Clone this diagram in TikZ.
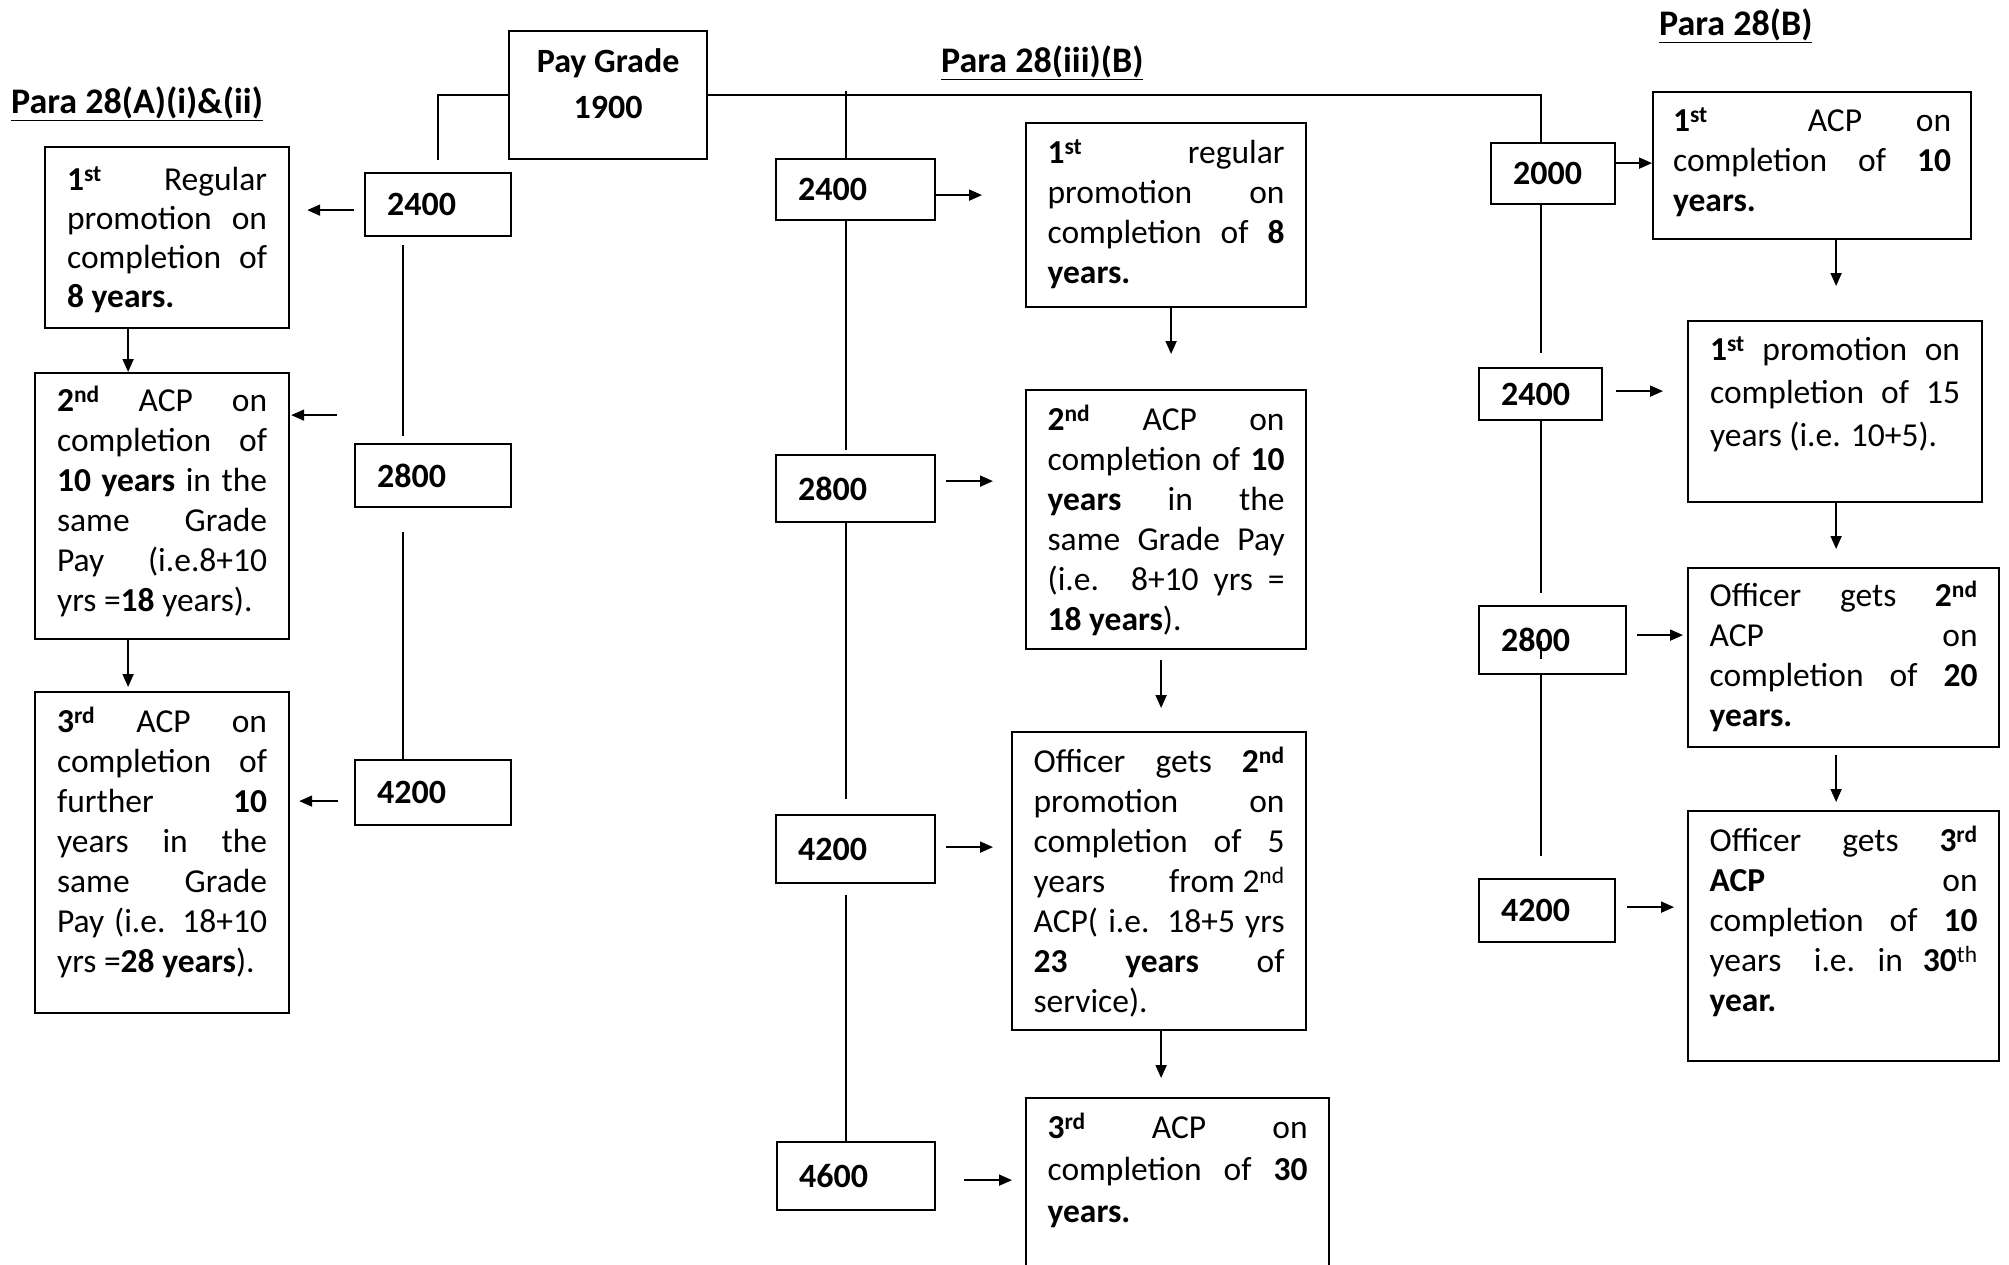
\documentclass[tikz,border=0pt]{standalone}
\usepackage{fontspec}
\setmainfont{Carlito}
\usetikzlibrary{arrows.meta}
\newcommand\strutx{\rule[-9pt]{0pt}{35pt}}
\newcommand\jl[1]{\makebox[\linewidth][s]{\strutx#1}\\}
\newcommand\lastl[1]{\strutx#1}
\newcommand\txtbox[4]{\parbox[c][#2][t]{#1}{\fontsize{33.5}{#3}\selectfont\parindent=0pt\noindent#4}}
\newcommand\ordn[2]{\textbf{#1\textsuperscript{#2}}}
\begin{document}
\begin{tikzpicture}[x=1pt,y=-1pt,
 tbox/.style={draw, line width=2.2pt, anchor=north west, inner ysep=14pt},
 vbox/.style={draw, line width=2.2pt, anchor=north west, inner ysep=0pt, inner xsep=22pt, align=left, font=\bfseries\fontsize{34}{40}\selectfont},
 conn/.style={line width=1.8pt},
 arr/.style={line width=1.8pt, -{Triangle[length=13pt,width=11pt]}},
 lbl/.style={anchor=base west, inner sep=0pt, font=\bfseries\fontsize{36}{42}\selectfont}]
\useasboundingbox (0,0) rectangle (2009,1264);

% headings
\node[lbl] (la) at (11,113) {\underline{Para 28(A)(i)\&(ii)}};
\node[lbl] (lb) at (941,72) {\underline{Para 28(iii)(B)}};
\node[lbl] (lc) at (1659,35) {\underline{Para 28(B)}};

% pay grade
\node[tbox, inner xsep=0pt, inner ysep=15pt] (pay) at (508,30) {\parbox[c][98pt][t]{198pt}{\centering\bfseries\fontsize{34}{46}\selectfont\strutx Pay Grade\\1900}};

% value boxes
\node[vbox, text width=102pt, minimum height=63pt] (a2400) at (364,172) {2400};
\node[vbox, text width=112pt, minimum height=63pt] (a2800) at (354,443) {2800};
\node[vbox, text width=112pt, minimum height=65pt] (a4200) at (354,759) {4200};
\node[vbox, text width=115pt, minimum height=61pt] (m2400) at (775,158) {2400};
\node[vbox, text width=115pt, minimum height=67pt] (m2800) at (775,454) {2800};
\node[vbox, text width=115pt, minimum height=68pt] (m4200) at (775,814) {4200};
\node[vbox, text width=114pt, minimum height=68pt] (m4600) at (776,1141) {4600};
\node[vbox, text width=80pt, minimum height=61pt] (r2000) at (1490,142) {2000};
\node[vbox, text width=79pt, minimum height=52pt] (r2400) at (1478,367) {2400};
\node[vbox, text width=103pt, minimum height=68pt] (r2800) at (1478,605) {2800};
\node[vbox, text width=92pt, minimum height=63pt] (r4200) at (1478,878) {4200};

% text boxes, left
\node[tbox, inner xsep=22pt, inner ysep=17pt] (L1) at (44,146) {\txtbox{200pt}{147pt}{39pt}{%
\jl{\ordn{1}{st} Regular}
\jl{promotion on}
\jl{completion of}
\lastl{\textbf{8 years.}}}};
\node[tbox, inner xsep=22pt, inner ysep=12pt] (L2) at (34,372) {\txtbox{210pt}{242pt}{40pt}{%
\jl{\ordn{2}{nd} ACP on}
\jl{completion of}
\jl{\textbf{10 years} in the}
\jl{same Grade}
\jl{Pay (i.e.8+10}
\lastl{yrs =\textbf{18} years).}}};
\node[tbox, inner xsep=22pt, inner ysep=14pt] (L3) at (34,691) {\txtbox{210pt}{293pt}{40pt}{%
\jl{\ordn{3}{rd} ACP on}
\jl{completion of}
\jl{further \textbf{10}}
\jl{years in the}
\jl{same Grade}
\jl{Pay (i.e. 18+10}
\lastl{yrs =\textbf{28 years}).}}};

% text boxes, middle
\node[tbox, inner xsep=21.5pt] (M1) at (1025,122) {\txtbox{237pt}{156pt}{40pt}{%
\jl{\ordn{1}{st} regular}
\jl{promotion on}
\jl{completion of \textbf{8}}
\lastl{\textbf{years.}}}};
\node[tbox, inner xsep=21.5pt] (M2) at (1025,389) {\txtbox{237pt}{231pt}{40pt}{%
\jl{\ordn{2}{nd} ACP on}
\jl{completion of \textbf{10}}
\jl{\textbf{years} in the}
\jl{same Grade Pay}
\jl{(i.e. 8+10 yrs =}
\lastl{\textbf{18 years}).}}};
\node[tbox, inner xsep=21.5pt] (M3) at (1011,731) {\txtbox{251pt}{270pt}{40pt}{%
\jl{Officer gets \ordn{2}{nd}}
\jl{promotion on}
\jl{completion of 5}
\jl{years \hfill from 2\textsuperscript{nd}}
\jl{ACP( i.e. 18+5 yrs}
\jl{\textbf{23 years} of}
\lastl{service).}}};
\node[tbox, inner xsep=21.5pt] (M4) at (1025,1097) {\txtbox{260pt}{172pt}{42pt}{%
\jl{\ordn{3}{rd} ACP on}
\jl{completion of \textbf{30}}
\lastl{\textbf{years.}}}};

% text boxes, right
\node[tbox, inner xsep=20pt, inner ysep=13pt] (R1) at (1652,91) {\txtbox{278pt}{121pt}{40pt}{%
\jl{\ordn{1}{st} \hfill\hfill ACP \hfill on}
\jl{completion of \textbf{10}}
\lastl{\textbf{years.}}}};
\node[tbox, inner xsep=22pt, inner ysep=13pt] (R2) at (1687,320) {\txtbox{250pt}{155pt}{43pt}{%
\jl{\ordn{1}{st} promotion on}
\jl{completion of 15}
\lastl{years (i.e. 10+5).}}};
\node[tbox, inner xsep=21.5pt, inner ysep=12pt] (R3) at (1687,567) {\txtbox{268pt}{155pt}{40pt}{%
\jl{Officer gets \ordn{2}{nd}}
\jl{ACP on}
\jl{completion of \textbf{20}}
\lastl{\textbf{years.}}}};
\node[tbox, inner xsep=21.5pt] (R4) at (1687,810) {\txtbox{268pt}{222pt}{40pt}{%
\jl{Officer gets \ordn{3}{rd}}
\jl{\textbf{ACP} on}
\jl{completion of \textbf{10}}
\jl{years \hfill\hfill i.e. \hfill in \hfill \textbf{30}\textsuperscript{th}}
\lastl{\textbf{year.}}}};

% trunk coordinates
\coordinate (ta) at (403,0);
\coordinate (tm) at (846,0);
\coordinate (tr) at (1541,0);

% trunk lines
\draw[conn] (pay.west) -| ([yshift=12pt]a2400.north);
\draw[conn] ([yshift=-8pt]a2400.south -| ta) -- ([yshift=7pt]a2800.north -| ta);
\draw[conn] ([yshift=-24pt]a2800.south -| ta) -- (a4200.north -| ta);
\draw[conn] (pay.east) -| (r2000.north -| tr);
\draw[conn] ([yshift=4pt]pay.east -| tm) -- (m2400.north -| tm);
\draw[conn] (m2400.south -| tm) -- ([yshift=4pt]m2800.north -| tm);
\draw[conn] (m2800.south -| tm) -- ([yshift=15pt]m4200.north -| tm);
\draw[conn] ([yshift=-11pt]m4200.south -| tm) -- (m4600.north -| tm);
\draw[conn] (r2000.south -| tr) -- ([yshift=14pt]r2400.north -| tr);
\draw[conn] (r2400.south -| tr) -- ([yshift=12pt]r2800.north -| tr);
\draw[conn] ([yshift=-1pt]r2800.center -| tr) -- ([yshift=-19pt]r2800.center -| tr);
\draw[conn] (r2800.south -| tr) -- ([yshift=22pt]r4200.north -| tr);

% arrows, left
\draw[arr] ([xshift=-10pt,yshift=-5.5pt]a2400.west) -- ([xshift=17pt,yshift=-5.5pt]a2400.west -| L1.east);
\draw[arr] ([xshift=-39pt]L1.south) -- ([xshift=-39pt]L1.south |- L2.north);
\draw[arr] ([xshift=-17pt,yshift=60.5pt]a2800.west) -- ([xshift=1pt,yshift=60.5pt]a2800.west -| L2.east);
\draw[arr] ([xshift=-34pt]L2.south) -- ([xshift=-34pt,yshift=4pt]L2.south |- L3.north);
\draw[arr] ([xshift=-16pt,yshift=-8.5pt]a4200.west) -- ([xshift=9pt,yshift=-8.5pt]a4200.west -| L3.east);

% arrows, middle
\draw[arr] ([yshift=-5.5pt]m2400.east) -- ([xshift=-43pt,yshift=-5.5pt]m2400.east -| M1.west);
\draw[arr] ([xshift=5pt]M1.south) -- ([xshift=5pt,yshift=35pt]M1.south |- M2.north);
\draw[arr] ([xshift=10pt,yshift=7.5pt]m2800.east) -- ([xshift=-32pt,yshift=7.5pt]m2800.east -| M2.west);
\draw[arr] ([xshift=-5pt,yshift=-10pt]M2.south) -- ([xshift=-5pt,yshift=23pt]M2.south |- M3.north);
\draw[arr] ([xshift=10pt,yshift=2pt]m4200.east) -- ([xshift=-18pt,yshift=2pt]m4200.east -| M3.west);
\draw[arr] ([xshift=2pt]M3.south) -- ([xshift=2pt,yshift=19pt]M3.south |- M4.north);
\draw[arr] ([xshift=28pt,yshift=-4pt]m4600.east) -- ([xshift=-13pt,yshift=-4pt]m4600.east -| M4.west);

% arrows, right
\draw[arr] ([yshift=10.5pt]r2000.east) -- ([yshift=10.5pt]r2000.east -| R1.west);
\draw[arr] ([xshift=24pt]R1.south) -- ([xshift=24pt,yshift=34pt]R1.south |- R2.north);
\draw[arr] ([xshift=13pt,yshift=3pt]r2400.east) -- ([xshift=-24pt,yshift=3pt]r2400.east -| R2.west);
\draw[arr] ([xshift=1pt]R2.south) -- ([xshift=1pt,yshift=18pt]R2.south |- R3.north);
\draw[arr] ([xshift=10pt,yshift=5pt]r2800.east) -- ([xshift=-4pt,yshift=5pt]r2800.east -| R3.west);
\draw[arr] ([xshift=-7.5pt,yshift=-7pt]R3.south) -- ([xshift=-7.5pt,yshift=8pt]R3.south |- R4.north);
\draw[arr] ([xshift=11pt,yshift=3.5pt]r4200.east) -- ([xshift=-13pt,yshift=3.5pt]r4200.east -| R4.west);
\end{tikzpicture}
\end{document}
